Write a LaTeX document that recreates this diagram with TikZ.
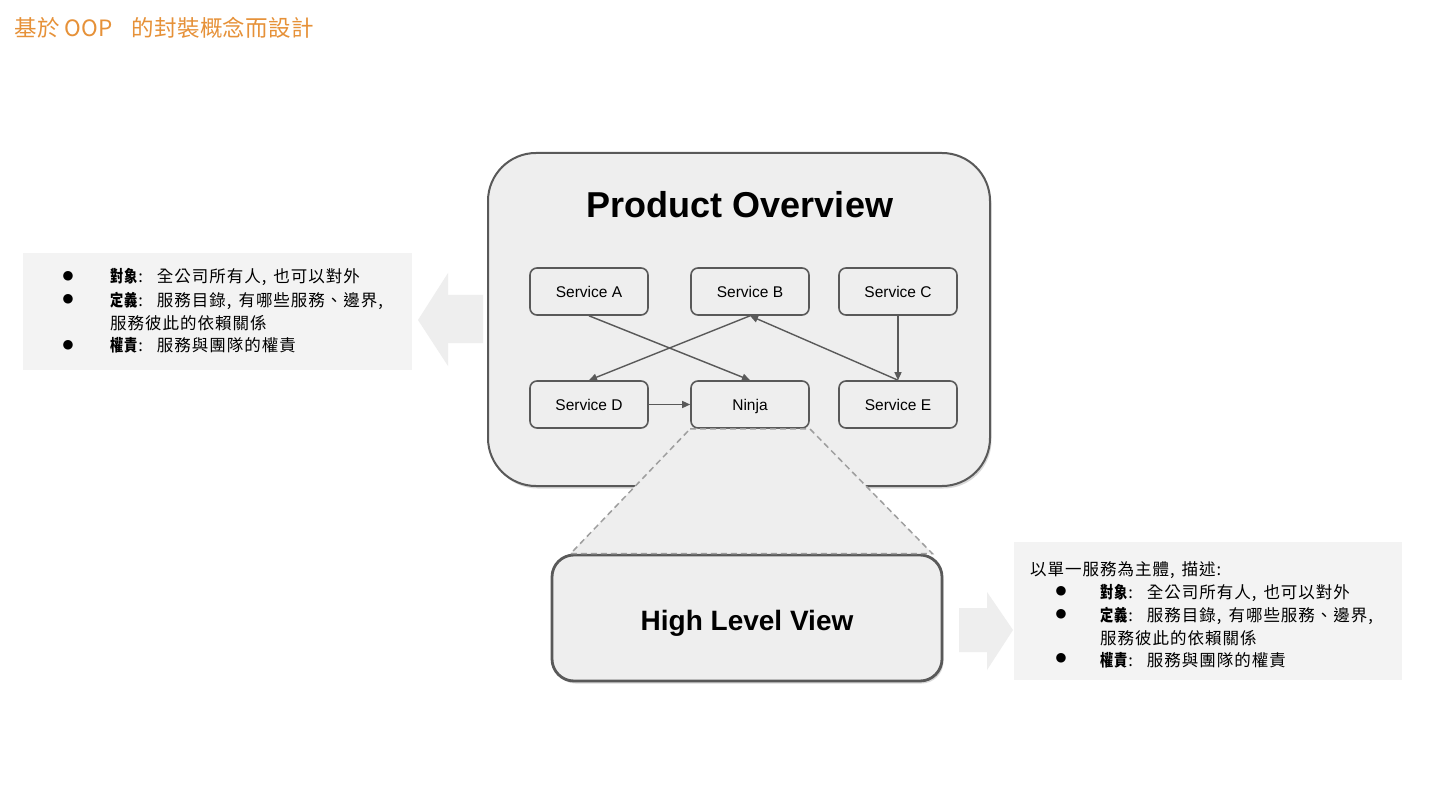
\documentclass[tikz,border=0pt]{standalone}
\usepackage{fontspec}
\usepackage{graphicx}
\setmainfont{Liberation Sans}
\newfontfamily\cjk{Noto Sans CJK TC}[LetterSpace=6]
\newfontfamily\cjktitle{Noto Sans CJK TC}[LetterSpace=2]
\newfontfamily\symf{DejaVu Sans}
\usetikzlibrary{shadows,arrows.meta,calc}
\definecolor{boxfill}{HTML}{EEEEEE}
\definecolor{boxline}{HTML}{595959}
\definecolor{panelfill}{HTML}{F3F3F3}
\definecolor{arrowfill}{HTML}{EEEEEE}
\definecolor{dashline}{HTML}{9E9E9E}
\definecolor{orangetitle}{HTML}{E69138}
\newcommand\bk[1]{\scalebox{0.8}[1]{\bfseries #1}}
\newcommand\colonsep{\hspace{1pt}:\hspace{14pt}}
\newcommand\commasep{,\hspace{7pt}}
\begin{document}
\begin{tikzpicture}[x=1pt,y=-1pt,
  svc/.style={draw=boxline, line width=1.6pt, fill=boxfill, rounded corners=7pt,
    minimum width=118pt, minimum height=47pt, inner sep=0pt, text depth=0pt,
    font=\fontsize{15.5}{18}\selectfont},
  conn/.style={draw=boxline, line width=1.4pt, -{Triangle[length=8pt,width=7pt]}},
  bigbox/.style={draw=boxline, fill=boxfill, inner sep=0pt,
    drop shadow={shadow xshift=1.5pt, shadow yshift=-2.5pt, opacity=0.3}},
  panel/.style={fill=panelfill, inner sep=0pt},
  bul/.style={anchor=center, inner sep=0pt, font=\symf\fontsize{12.5}{12.5}\selectfont},
  txt/.style={anchor=base west, inner sep=0pt, font=\cjk\fontsize{16.5}{19}\selectfont},
  blockarrow/.style={fill=arrowfill},
]
\useasboundingbox (0,0) rectangle (1440,810);
\fill[white] (0,0) rectangle (1440,810);

% title
\node[anchor=base west, inner sep=0pt, text=orangetitle, font=\cjktitle\fontsize{22.5}{26}\selectfont]
  (title) at (14,37) {基於\hspace{5pt}OOP\hspace{18pt}的封裝概念而設計};

% left panel
\node[panel, minimum width=389pt, minimum height=117pt] (lp) at (217.5,311.5) {};
\node[bul] (lb1) at (68,276.5) {●};
\node[txt] (lt1) at (110,283) {\bk{對象}\colonsep 全公司所有人\commasep 也可以對外};
\node[bul] (lb2) at (68,299.5) {●};
\node[txt] (lt2) at (110,306) {\bk{定義}\colonsep 服務目錄\commasep 有哪些服務、邊界,};
\node[txt] (lt3) at (110,329) {服務彼此的依賴關係};
\node[bul] (lb4) at (68,345) {●};
\node[txt] (lt4) at (110,351.5) {\bk{權責}\colonsep 服務與團隊的權責};

% left block arrow
\path[blockarrow] (418,320) -- (448,273) -- (448,295) -- (483,295) -- (483,343) -- (448,343) -- (448,366) -- cycle;

% big box
\node[bigbox, line width=2pt, rounded corners=48pt, minimum width=502pt, minimum height=333pt] (po) at (739,319.5) {};
\node[anchor=base, inner sep=0pt, font=\bfseries\fontsize{36}{40}\selectfont] (potitle) at (740,218) {Product Overview};

% services
\node[svc] (A) at (589,291.5) {Service A};
\node[svc] (B) at (750,291.5) {Service B};
\node[svc] (C) at (898,291.5) {Service C};
\node[svc] (D) at (589,404.5) {Service D};
\node[svc] (N) at (750,404.5) {Ninja};
\node[svc] (E) at (898,404.5) {Service E};

\draw[conn] (A.south) -- (N.north);
\draw[conn] (B.south) -- (D.north);
\draw[conn] (E.north) -- (B.south);
\draw[conn] (C.south) -- (E.north);
\draw[conn] (D.east) -- (N.west);

% high level view
\node[bigbox, line width=2.8pt, rounded corners=22pt, minimum width=390pt, minimum height=126pt] (hlv) at (747,618) {};
\node[anchor=base, inner sep=0pt, font=\bfseries\fontsize{28}{32}\selectfont] (hlvtitle) at (747,630) {High Level View};

% zoom trapezoid
\path[fill=boxfill, draw=dashline, line width=1.5pt, dash pattern=on 6pt off 4pt]
  (N.south west) -- (N.south east) -- ($(hlv.north east)+(-11,0)$) -- ($(hlv.north west)+(20,0)$) -- cycle;

% right block arrow
\path[blockarrow] (1013,630) -- (987,592) -- (987,608) -- (959,608) -- (959,652) -- (987,652) -- (987,670) -- cycle;

% right panel
\node[panel, minimum width=388pt, minimum height=138pt] (rp) at (1208,611) {};
\node[txt] (rt0) at (1030,575) {以單一服務為主體\commasep 描述:};
\node[bul] (rb1) at (1061,591.5) {●};
\node[txt] (rt1) at (1100,598) {\bk{對象}\colonsep 全公司所有人\commasep 也可以對外};
\node[bul] (rb2) at (1061,614.5) {●};
\node[txt] (rt2) at (1100,621) {\bk{定義}\colonsep 服務目錄\commasep 有哪些服務、邊界,};
\node[txt] (rt3) at (1100,644) {服務彼此的依賴關係};
\node[bul] (rb4) at (1061,658.5) {●};
\node[txt] (rt4) at (1100,666) {\bk{權責}\colonsep 服務與團隊的權責};
\end{tikzpicture}
\end{document}
